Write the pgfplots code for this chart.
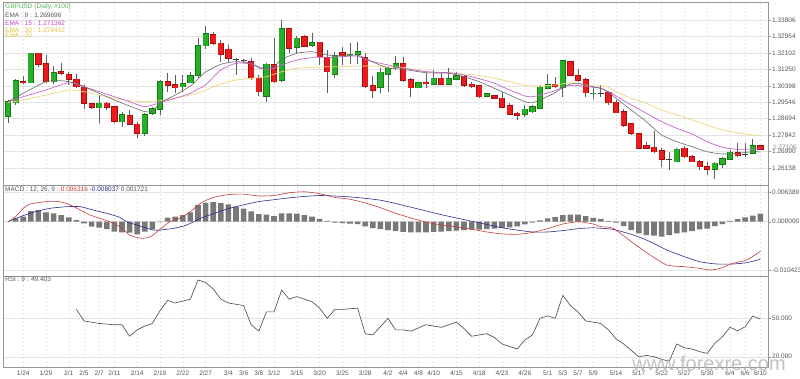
\documentclass[border=0pt]{standalone}
\usepackage{pgfplots}
\pgfplotsset{compat=1.18}
\usepackage{pgfplotstable}
\usepackage{fontspec}
\setmainfont{Liberation Sans}
\definecolor{cgreen}{RGB}{40,175,40}
\definecolor{cgreenb}{RGB}{20,120,20}
\definecolor{cred}{RGB}{232,28,28}
\definecolor{credb}{RGB}{170,10,10}
\definecolor{wickc}{RGB}{95,95,95}
\definecolor{dojic}{RGB}{60,60,60}
\definecolor{emanine}{RGB}{105,105,105}
\definecolor{emafift}{RGB}{200,100,205}
\definecolor{ematht}{RGB}{238,215,120}
\definecolor{histc}{RGB}{120,120,120}
\definecolor{macdred}{RGB}{200,60,60}
\definecolor{macdblue}{RGB}{45,45,140}
\definecolor{rsic}{RGB}{70,70,70}
\definecolor{gridc}{RGB}{228,228,228}
\definecolor{framec}{RGB}{150,150,150}
\definecolor{labc}{RGB}{85,85,85}
\definecolor{legg}{RGB}{90,180,90}
\definecolor{legm}{RGB}{205,70,205}
\definecolor{legy}{RGB}{225,195,70}

\pgfplotstableread{
i o h l c
0 1.28833 1.29662 1.28486 1.29574
1 1.29522 1.30734 1.29403 1.30662
2 1.30620 1.30905 1.30491 1.30569
3 1.30558 1.32097 1.30543 1.32081
4 1.32081 1.32097 1.31356 1.31527
5 1.31527 1.31993 1.30527 1.30610
6 1.30610 1.31423 1.30491 1.31076
7 1.31112 1.31563 1.30957 1.31061
8 1.30957 1.31128 1.30439 1.30750
9 1.30734 1.31009 1.30268 1.30351
10 1.30320 1.30439 1.29196 1.29491
11 1.29455 1.29507 1.29196 1.29284
12 1.29263 1.29921 1.28486 1.29491
13 1.29491 1.29574 1.29144 1.29284
14 1.29315 1.29351 1.28455 1.28574
15 1.28538 1.29056 1.28279 1.28885
16 1.28833 1.29144 1.28367 1.28419
17 1.28403 1.28538 1.27678 1.27937
18 1.27937 1.29004 1.27797 1.28885
19 1.28973 1.29315 1.28885 1.29196
20 1.29196 1.30698 1.28885 1.30610
21 1.30610 1.31076 1.30092 1.30439
22 1.30439 1.30957 1.30009 1.30299
23 1.30351 1.30957 1.30092 1.30491
24 1.30558 1.31128 1.30527 1.30921
25 1.30957 1.32874 1.30802 1.32459
26 1.32475 1.33495 1.32288 1.33081
27 1.33029 1.33200 1.32511 1.32599
28 1.32599 1.32770 1.31646 1.32029
29 1.32288 1.32511 1.31646 1.31822
30 1.31760 1.31838 1.30957 1.31760
31 1.31730 1.31770 1.31563 1.31730
32 1.31646 1.31822 1.30698 1.30817
33 1.30786 1.30957 1.29869 1.30092
34 1.29869 1.31594 1.29574 1.31511
35 1.31475 1.32858 1.30527 1.30610
36 1.30698 1.33806 1.30610 1.33340
37 1.33340 1.33376 1.32081 1.32340
38 1.32392 1.32977 1.32081 1.32858
39 1.32941 1.33029 1.32423 1.32459
40 1.32511 1.33117 1.32423 1.32630
41 1.32651 1.32682 1.31475 1.31905
42 1.31853 1.32252 1.30009 1.31128
43 1.30993 1.32164 1.30786 1.31941
44 1.32112 1.32392 1.31475 1.31957
45 1.32009 1.32599 1.31511 1.32029
46 1.32029 1.32651 1.31511 1.32164
47 1.31853 1.32112 1.30299 1.30387
48 1.30387 1.30905 1.29750 1.30180
49 1.30320 1.31304 1.30040 1.31097
50 1.30993 1.31387 1.30092 1.31304
51 1.31335 1.31957 1.31216 1.31527
52 1.31527 1.31905 1.30610 1.30698
53 1.30698 1.30786 1.29833 1.30299
54 1.30299 1.30610 1.30268 1.30558
55 1.30579 1.31076 1.30268 1.30506
56 1.30475 1.31216 1.30439 1.30786
57 1.30786 1.31128 1.30439 1.30475
58 1.30475 1.31304 1.30439 1.30750
59 1.30750 1.31128 1.30698 1.30905
60 1.30869 1.30957 1.30351 1.30439
61 1.30475 1.30610 1.30299 1.30351
62 1.30387 1.30439 1.29750 1.29833
63 1.29869 1.30009 1.29802 1.29973
64 1.29869 1.29921 1.29714 1.29750
65 1.29750 1.30092 1.29232 1.29284
66 1.29351 1.29491 1.28885 1.28937
67 1.28973 1.29056 1.28626 1.28885
68 1.28921 1.29403 1.28797 1.29180
69 1.29056 1.29403 1.29004 1.29315
70 1.29232 1.30439 1.29180 1.30320
71 1.30268 1.31009 1.30216 1.30439
72 1.30475 1.30838 1.30299 1.30351
73 1.30320 1.31734 1.29833 1.31682
74 1.31646 1.31682 1.30905 1.30957
75 1.30921 1.31252 1.30610 1.30698
76 1.30698 1.30786 1.29833 1.30040
77 1.30000 1.30268 1.29698 1.30015
78 1.30009 1.30439 1.29833 1.30009
79 1.30061 1.30144 1.29403 1.29522
80 1.29543 1.29662 1.28973 1.29004
81 1.29056 1.29180 1.28279 1.28367
82 1.28419 1.28486 1.27849 1.27937
83 1.27901 1.27968 1.27108 1.27160
84 1.27279 1.27502 1.27108 1.27160
85 1.27212 1.28072 1.26932 1.26984
86 1.27036 1.27160 1.26207 1.26606
87 1.26590 1.26984 1.26036 1.26590
88 1.26466 1.27160 1.26435 1.27108
89 1.27160 1.27279 1.26642 1.26725
90 1.26725 1.26813 1.26435 1.26466
91 1.26466 1.26554 1.26036 1.26207
92 1.26207 1.26466 1.25777 1.26088
93 1.26072 1.26435 1.25554 1.26383
94 1.26347 1.26725 1.26124 1.26606
95 1.26606 1.27072 1.26554 1.26953
96 1.26932 1.27419 1.26725 1.26777
97 1.26849 1.27419 1.26725 1.26849
98 1.26901 1.27642 1.26849 1.27295
99 1.27295 1.27331 1.27080 1.27106
}\candles

\pgfplotsset{
  panel/.style={
    scale only axis, width=765pt, xmin=-0.66, xmax=100,
    axis line style={draw=framec},
    ytick pos=right, yticklabel pos=right,
    tick align=outside, major tick length=3pt,
    ytick style={draw=framec}, xtick style={draw=none},
    yticklabel style={font=\fontsize{6.5}{7}\selectfont, text=labc, inner sep=1pt},
    xticklabel style={font=\fontsize{6.5}{7}\selectfont, text=labc, inner sep=1pt},
    xtick={2,5,8,10,12,14,17,20,23,26,29,31,33,35,38,41,44,47,50,52,54,56,59,62,65,68,71,73,75,77,80,83,86,89,92,95,97,99},
    xmajorgrids, ymajorgrids,
    x grid style={gridc, dash pattern=on 2pt off 2pt},
    y grid style={gridc},
    scaled y ticks=false,
    clip=true,
  },
  candlebar/.style={draw=none, mark=none, forget plot,
    error bars/.cd, y dir=plus, y explicit, error mark=none,
    error bar style={#1}},
}

\begin{document}
\fontsize{6.5}{7.5}\selectfont
\begin{tikzpicture}
\useasboundingbox (0pt,0pt) rectangle (800pt,378pt);

% ---------------- price panel ----------------
\begin{axis}[panel, at={(3pt,193pt)}, anchor=south west, height=183pt,
  ymin=1.25259, ymax=1.34738, xticklabels={},
  ytick={1.33806,1.32954,1.32102,1.31250,1.30398,1.29546,1.28694,1.27842,1.26990,1.26138},
  yticklabels={1.33806,1.32954,1.32102,1.31250,1.30398,1.29546,1.28694,1.27842,1.26990,1.26138}]
% wicks
\addplot[candlebar={draw=wickc, line width=0.9pt}]
  table[x=i, y=l, y error plus expr={\thisrow{h}-\thisrow{l}}] {\candles};
% green bodies
\addplot[candlebar={draw=cgreenb, line width=6.2pt}]
  table[x=i, y expr={\thisrow{c}>\thisrow{o} ? \thisrow{o}-0.0003 : nan},
        y error plus expr={\thisrow{c}-\thisrow{o}+0.0006}] {\candles};
\addplot[candlebar={draw=cgreen, line width=4.8pt}]
  table[x=i, y expr={\thisrow{c}>\thisrow{o} ? \thisrow{o} : nan},
        y error plus expr={\thisrow{c}-\thisrow{o}}] {\candles};
% red bodies
\addplot[candlebar={draw=credb, line width=6.2pt}]
  table[x=i, y expr={\thisrow{c}<\thisrow{o} ? \thisrow{c}-0.0003 : nan},
        y error plus expr={\thisrow{o}-\thisrow{c}+0.0006}] {\candles};
\addplot[candlebar={draw=cred, line width=4.8pt}]
  table[x=i, y expr={\thisrow{c}<\thisrow{o} ? \thisrow{c} : nan},
        y error plus expr={\thisrow{o}-\thisrow{c}}] {\candles};
% doji
\addplot[only marks, mark=-, mark size=3pt, mark options={draw=dojic, line width=1pt}, forget plot]
  table[x=i, y expr={\thisrow{c}==\thisrow{o} ? \thisrow{c} : nan}] {\candles};
% EMA 30
\addplot[ematht, line width=0.7pt, smooth, tension=0.4] coordinates {
(0,1.29522) (2,1.29662) (5,1.29921) (8,1.30180) (10,1.30092) (12,1.29921) (14,1.29750)
(16,1.29626) (18,1.29574) (20,1.29626) (22,1.29750) (24,1.29921) (25,1.30009) (26,1.30180)
(28,1.30491) (30,1.30698) (32,1.30786) (34,1.30869) (36,1.31128) (38,1.31304) (40,1.31356)
(42,1.31387) (44,1.31387) (46,1.31423) (48,1.31423) (50,1.31387) (52,1.31356) (55,1.31128)
(58,1.31076) (60,1.31009) (62,1.30931) (64,1.30786) (66,1.30610) (68,1.30413) (70,1.30387)
(72,1.30439) (74,1.30558) (75,1.30517) (77,1.30387) (78,1.30387) (79,1.30320) (80,1.30092)
(82,1.29750) (84,1.29491) (86,1.29144) (88,1.28885) (90,1.28626) (92,1.28367) (94,1.28108)
(96,1.27968) (98,1.27849) (99,1.27841)};
% EMA 15
\addplot[emafift, line width=0.7pt, smooth, tension=0.4] coordinates {
(0,1.29574) (2,1.29833) (5,1.30180) (8,1.30558) (10,1.30351) (12,1.30092) (14,1.29833)
(16,1.29574) (18,1.29315) (20,1.29522) (22,1.29750) (24,1.30009) (25,1.30232) (26,1.30439)
(28,1.31216) (30,1.31563) (32,1.31527) (34,1.31252) (35,1.31304) (36,1.31475) (38,1.31734)
(40,1.31853) (42,1.31853) (44,1.31905) (46,1.31941) (47,1.31770) (48,1.31646) (50,1.31475)
(52,1.31304) (55,1.31128) (58,1.31076) (60,1.30957) (62,1.30765) (64,1.30527) (66,1.30180)
(68,1.29869) (69,1.29833) (70,1.29921) (72,1.30144) (73,1.30320) (74,1.30413) (75,1.30413)
(77,1.30320) (78,1.30268) (79,1.30092) (80,1.29869) (82,1.29403) (84,1.28973) (86,1.28538)
(88,1.28196) (90,1.27901) (92,1.27502) (94,1.27212) (96,1.27108) (98,1.27124) (99,1.27136)};
% EMA 9
\addplot[emanine, line width=0.6pt, smooth, tension=0.4] coordinates {
(0,1.29574) (2,1.30009) (5,1.30610) (7,1.30662) (9,1.30527) (10,1.30351) (12,1.30009)
(14,1.29662) (16,1.29351) (18,1.29056) (19,1.29092) (20,1.29507) (22,1.29921) (24,1.30387)
(25,1.30750) (26,1.31112) (28,1.31511) (30,1.31646) (32,1.31563) (33,1.31320) (34,1.31304)
(35,1.31387) (36,1.31770) (38,1.32081) (40,1.32164) (42,1.31993) (44,1.31941) (46,1.31993)
(47,1.31822) (48,1.31630) (50,1.31320) (52,1.31252) (55,1.31076) (58,1.31045) (60,1.30869)
(62,1.30610) (64,1.30268) (66,1.29921) (68,1.29574) (69,1.29522) (70,1.29662) (72,1.30040)
(73,1.30320) (74,1.30491) (75,1.30527) (77,1.30351) (78,1.30268) (79,1.30061) (80,1.29750)
(82,1.29144) (84,1.28538) (86,1.27849) (88,1.27502) (90,1.27243) (92,1.26984) (94,1.26865)
(96,1.26901) (98,1.26984) (99,1.26970)};
\end{axis}

% ---------------- MACD panel ----------------
\begin{axis}[panel, at={(3pt,102pt)}, anchor=south west, height=91pt,
  ymin=-0.01162, ymax=0.00785, xticklabels={},
  ytick={0.006389,0,-0.010423}, yticklabels={0.006389,0.000000,-0.010423}]
\addplot[ybar, bar width=5.6pt, bar shift=0pt, fill=histc, draw=none] coordinates {
(0,0) (1,0.0007) (2,0.00107) (3,0.00228) (4,0.0025) (5,0.002) (6,0.00178) (7,0.00143)
(8,0.00093) (9,0.00036) (10,-0.00036) (11,-0.00107) (12,-0.00128) (13,-0.00157) (14,-0.00214)
(15,-0.00228) (16,-0.00235) (17,-0.00271) (18,-0.00214) (19,-0.00164) (20,-0.0001) (21,0.00086)
(22,0.00107) (23,0.00143) (24,0.002) (25,0.00357) (26,0.0040) (27,0.0042) (28,0.0040)
(29,0.0037) (30,0.0032) (31,0.0028) (32,0.0022) (33,0.0016) (34,0.0015) (35,0.0012)
(36,0.0018) (37,0.0018) (38,0.0017) (39,0.0014) (40,0.0011) (41,0.0006) (42,0.0002)
(43,-0.0002) (44,-0.0003) (45,-0.0004) (46,-0.0005) (47,-0.0010) (48,-0.0014) (49,-0.0016)
(50,-0.0018) (51,-0.0020) (52,-0.0022) (53,-0.0023) (54,-0.0023) (55,-0.0023) (56,-0.0022)
(57,-0.0021) (58,-0.0020) (59,-0.0019) (60,-0.0018) (61,-0.0017) (62,-0.0017) (63,-0.0016)
(64,-0.0015) (65,-0.0013) (66,-0.0012) (67,-0.0010) (68,-0.0006) (69,-0.0002) (70,0.0003)
(71,0.0007) (72,0.0010) (73,0.0014) (74,0.0015) (75,0.0015) (76,0.0012) (77,0.0008)
(78,0.0006) (79,0.0002) (80,-0.0002) (81,-0.00093) (82,-0.00178) (83,-0.0025) (84,-0.00285)
(85,-0.003) (86,-0.00321) (87,-0.00285) (88,-0.0025) (89,-0.00228) (90,-0.002) (91,-0.00164)
(92,-0.0015) (93,-0.00093) (94,-0.0005) (95,0.0002) (96,0.00057) (97,0.00093) (98,0.00128)
(99,0.00172)};
\addplot[macdblue, line width=0.6pt, smooth, tension=0.4] coordinates {
(0,0) (1.6,0.00107) (3.6,0.00214) (5.5,0.00285) (7.7,0.00321) (9.5,0.00321) (11.2,0.0025)
(13,0.00178) (14.7,0.00093) (15.6,0) (17.4,-0.00093) (19.1,-0.00178) (20,-0.00178)
(21.8,-0.00143) (23.5,-0.00071) (25.3,0.00071) (27,0.0017) (29,0.0028) (31,0.0036)
(33,0.0043) (35,0.0047) (37,0.0051) (39,0.0054) (41,0.0056) (43,0.0055) (45,0.0053)
(47,0.0050) (49,0.0046) (51,0.0039) (53,0.0031) (55,0.0023) (57,0.0015) (59,0.0008)
(61,0.0001) (63,-0.0006) (65,-0.0013) (67,-0.0018) (69,-0.0022) (71,-0.0022) (73,-0.0019)
(75,-0.0015) (77,-0.0013) (78,-0.00141) (79.6,-0.00164) (82.3,-0.00285) (84.5,-0.00428)
(86.7,-0.00606) (89,-0.00749) (91,-0.00856) (93.2,-0.00905) (95.4,-0.00905) (97.2,-0.00877)
(99,-0.00804)};
\addplot[macdred, line width=0.6pt, smooth, tension=0.4] coordinates {
(0,0) (1,0.00107) (2,0.00285) (2.9,0.00378) (4.2,0.00414) (5.5,0.00435) (6.8,0.00428)
(8.2,0.00357) (9.5,0.0025) (10.8,0.00143) (12.1,0.00071) (13.4,0) (14.7,-0.00107)
(16,-0.00285) (16.9,-0.00335) (17.8,-0.00357) (18.9,-0.00307) (20,-0.00164) (21.3,0)
(22.6,0.00071) (24,0.00214) (25.3,0.00392) (27,0.0052) (29,0.0058) (31,0.0059) (33,0.0055)
(35,0.0056) (37,0.0062) (39,0.0064) (41,0.0060) (43,0.0052) (45,0.0048) (47,0.0040)
(49,0.0030) (51,0.0018) (53,0.0008) (55,-0.0001) (57,-0.0007) (59,-0.0011) (61,-0.0016)
(63,-0.0022) (65,-0.0026) (67,-0.0027) (69,-0.0023) (71,-0.0015) (73,-0.0005) (75,0.0000)
(76,-0.0002) (77,-0.0005) (78,-0.00107) (79.6,-0.00141) (82.3,-0.00462) (84.5,-0.00713)
(86.7,-0.00927) (89,-0.00963) (91,-0.00998) (92.4,-0.01034) (93.7,-0.00998) (95.4,-0.0089)
(97.2,-0.0082) (99,-0.00632)};
\end{axis}

% ---------------- RSI panel ----------------
\begin{axis}[panel, at={(3pt,11.3pt)}, anchor=south west, height=90.7pt,
  ymin=12.2, ymax=83.1,
  ytick={50,20}, yticklabels={50.000,20.000},
  xticklabels={1/24,1/29,2/1,2/5,2/7,2/11,2/14,2/19,2/22,2/27,3/4,3/6,3/8,3/12,3/15,3/20,3/25,3/28,4/2,4/4,4/8,4/10,4/15,4/18,4/23,4/26,5/1,5/3,5/7,5/9,5/14,5/17,5/22,5/27,5/30,6/4,6/6,6/10}]
\addplot[rsic, line width=0.6pt] coordinates {
(9,57) (10,48) (12,46) (14,45) (15,45) (16,36) (17,41) (18,44) (19,46) (20,56) (21,64) (22,62)
(24,65) (25,80) (26,78) (27,73) (28,65) (29,62) (31,60) (32,45) (33,40) (34,55) (35,55) (36,72)
(37,65) (38,67) (40,63) (41,58) (42,50) (43,57) (44,57) (46,58) (47,38) (48,37) (50,50) (51,41)
(52,41) (53,40) (55,45) (57,43) (58,45) (59,47) (60,42) (61,36) (62,37) (63,38) (64,35) (65,30)
(66,28) (67,26) (68,33) (69,37) (70,50) (71,52) (72,50) (73,68) (74,60) (75,55) (76,48) (77,47)
(78,46) (79,41) (80,34) (81,30) (82,25) (83,20) (84,21) (85,20) (86,18) (87,16.6) (88,30)
(89,27) (90,26) (91,24) (92,22.6) (93,30.4) (94,35.6) (95,43) (96,40.3) (97,43.4) (98,51.8)
(99,49.4)};
\end{axis}

% current price tag
\node[anchor=west, text=black!45, inner sep=1pt, font=\fontsize{6.5}{7}\selectfont] at (772pt,230.5pt) {1.27106};

% legends
\node[anchor=west, inner sep=0pt, text=legg] at (5pt,371.3pt) {GBPUSD (Daily, \#100)};
\node[anchor=west, inner sep=0pt, text=labc] at (5pt,362.3pt) {EMA : 9 : 1.269696};
\node[anchor=west, inner sep=0pt, text=legm] at (5pt,354.7pt) {EMA : 15 : 1.271362};
\node[anchor=west, inner sep=0pt, text=legy] at (5pt,348pt) {EMA : 30 : 1.278412};
\node[anchor=west, inner sep=0pt, text=legy] at (5pt,343pt) {EMA : 30};
\node[anchor=west, inner sep=0pt] at (5pt,188pt) {\textcolor{labc}{MACD : 12, 26, 9 :}\textcolor{macdred}{-0.006316} \textcolor{macdblue}{-0.008037} \textcolor{labc}{0.001721}};
\node[anchor=west, inner sep=0pt, text=labc] at (5pt,98.5pt) {RSI : 9 : 49.403};

% watermark
\node[text=black!30, opacity=0.8, font=\fontsize{20}{22}\selectfont] at (709pt,15pt) {www.forexre.com};
\end{tikzpicture}
\end{document}
